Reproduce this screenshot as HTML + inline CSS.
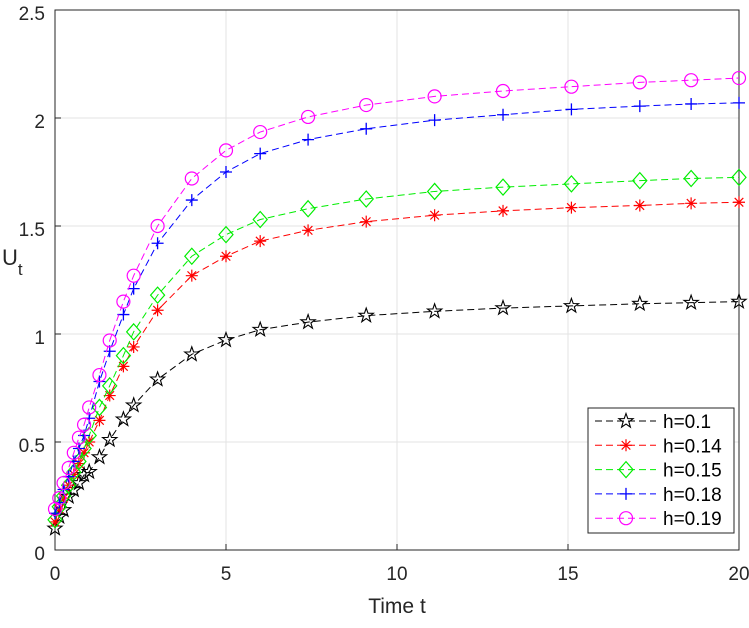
<!DOCTYPE html>
<html><head><meta charset="utf-8"><style>
body{margin:0;background:#fff;}
svg{font-family:"Liberation Sans",sans-serif;}
</style></head><body>
<svg id="chart" width="749" height="623" xmlns="http://www.w3.org/2000/svg">
<rect width="749" height="623" fill="#fff"/>
<g id="grid"></g>
<g id="axes"></g>
<g id="series"></g>
<g id="legend"></g>
</svg>
<script>
const times=[0,0.125,0.25,0.4,0.55,0.7,0.85,1,1.3,1.6,2,2.3,3,4,5,6,7.4,9.1,11.1,13.1,15.1,17.1,18.6,20];
const seriesNames=["h=0.1","h=0.14","h=0.15","h=0.18","h=0.19"];
const s1=[0.10,0.154,0.185,0.247,0.278,0.31,0.347,0.362,0.43,0.51,0.605,0.67,0.79,0.906,0.972,1.02,1.055,1.085,1.105,1.12,1.13,1.14,1.145,1.15];
const s2=[0.13,0.19,0.24,0.30,0.35,0.40,0.45,0.50,0.60,0.715,0.85,0.94,1.11,1.27,1.36,1.43,1.48,1.52,1.55,1.57,1.585,1.595,1.605,1.61];
const s3=[0.14,0.20,0.25,0.30,0.36,0.41,0.47,0.53,0.66,0.76,0.90,1.01,1.18,1.36,1.46,1.53,1.58,1.625,1.66,1.68,1.695,1.71,1.72,1.725];
const s4=[0.17,0.22,0.28,0.34,0.41,0.47,0.53,0.61,0.78,0.92,1.09,1.21,1.42,1.62,1.75,1.835,1.90,1.95,1.99,2.015,2.04,2.055,2.065,2.07];
const s5=[0.19,0.24,0.31,0.38,0.45,0.52,0.58,0.66,0.81,0.97,1.15,1.27,1.50,1.72,1.85,1.935,2.005,2.06,2.10,2.125,2.145,2.165,2.175,2.185];
const xTicks=[0,5,10,15,20];
const yTicks=[0,0.5,1,1.5,2,2.5];
const colors=["#000000","#ff0000","#00ee00","#0000ff","#ff00ff"];
const markers=["star","asterisk","diamond","plus","circle"];
const allSeries=[s1,s2,s3,s4,s5];

const X0=55,X1=739,Y0=550,Y1=10;
const xs=t=>X0+(t-0)/(20-0)*(X1-X0);
const ys=v=>Y0-(v-0)/(2.5-0)*(Y0-Y1);
const NS="http://www.w3.org/2000/svg";
function mk(tag,attrs,parent){const e=document.createElementNS(NS,tag);for(const k in attrs)e.setAttribute(k,attrs[k]);parent.appendChild(e);return e;}
const grid=document.getElementById('grid'),axes=document.getElementById('axes'),ser=document.getElementById('series'),leg=document.getElementById('legend');

xTicks.forEach(t=>{
  if(t>0&&t<20){const l=mk('line',{x1:xs(t),x2:xs(t),y1:Y0,y2:Y1,stroke:'#e3e3e3','stroke-width':1},grid);
  
  }
  const tk=mk('line',{x1:xs(t),x2:xs(t),y1:Y0,y2:Y0-6,stroke:'#262626'},axes);
  
  
  const tx=mk('text',{x:xs(t),y:580,'text-anchor':'middle','font-size':19,fill:'#262626'},axes);tx.textContent=t;
  
  
});
yTicks.forEach(v=>{
  if(v>0&&v<2.5){const l=mk('line',{x1:X0,x2:X1,y1:ys(v),y2:ys(v),stroke:'#e3e3e3','stroke-width':1},grid);
  
  }
  const tk=mk('line',{x1:X0,x2:X0+6,y1:ys(v),y2:ys(v),stroke:'#262626'},axes);
  
  
  const tx=mk('text',{x:45,y:ys(v)+10,'text-anchor':'end','font-size':19,fill:'#262626'},axes);tx.textContent=v;
  
  
});
const frame=mk('rect',{x:X0,y:Y1,width:X1-X0,height:Y0-Y1,fill:'none',stroke:'#262626','stroke-width':1},axes);


const xl=mk('text',{x:397,y:613,'text-anchor':'middle','font-size':21,fill:'#262626'},axes);xl.textContent='Time t';


const yl=mk('text',{x:2,y:265,'font-size':22,fill:'#262626'},axes);


const ylm=mk('tspan',{},yl);ylm.textContent='U';
const yls=mk('tspan',{dy:10,'font-size':17},yl);yls.textContent='t';

function marker(type,x,y,c,parent){
  let e;
  if(type==='circle')e=mk('circle',{cx:x,cy:y,r:6.5,fill:'none',stroke:c,'stroke-width':1.2},parent);
  else if(type==='diamond')e=mk('polygon',{points:`${x},${y-8} ${x+7},${y} ${x},${y+8} ${x-7},${y}`,fill:'none',stroke:c,'stroke-width':1.2},parent);
  else if(type==='plus')e=mk('path',{d:`M${x-6},${y}H${x+6}M${x},${y-6}V${y+6}`,stroke:c,'stroke-width':1.3,fill:'none'},parent);
  else if(type==='asterisk')e=mk('path',{d:`M${x-6},${y}H${x+6}M${x},${y-6}V${y+6}M${x-4.3},${y-4.3}L${x+4.3},${y+4.3}M${x-4.3},${y+4.3}L${x+4.3},${y-4.3}`,stroke:c,'stroke-width':1.2,fill:'none'},parent);
  else{let p=[];for(let i=0;i<10;i++){const r=i%2?3:7.5;const a=-Math.PI/2+i*Math.PI/5;p.push((x+r*Math.cos(a)).toFixed(1)+','+(y+r*Math.sin(a)).toFixed(1));}
    e=mk('polygon',{points:p.join(' '),fill:'none',stroke:c,'stroke-width':1.1},parent);}
  return e;
}
allSeries.forEach((s,i)=>{
  const g=mk('g',{},ser);
  
  
  const pl=mk('polyline',{points:s.map((v,j)=>xs(times[j])+','+ys(v)).join(' '),fill:'none',stroke:colors[i],'stroke-width':1,'stroke-dasharray':'7,4'},g);
  
  
  s.forEach((v,j)=>{const m=marker(markers[i],xs(times[j]),ys(v),colors[i],g);
    
    });
});
const lb=mk('rect',{x:588,y:408,width:146,height:125,fill:'#fff',stroke:'#262626','stroke-width':1},leg);


seriesNames.forEach((n,i)=>{
  const y=421+i*24.3;
  const g=mk('g',{},leg);
  
  
  mk('line',{x1:595,x2:656,y1:y,y2:y,stroke:colors[i],'stroke-width':1,'stroke-dasharray':'7,4'},g);
  marker(markers[i],626,y,colors[i],g);
  const t=mk('text',{x:663,y:y+7,'font-size':19,fill:'#000'},g);t.textContent=n;
});
</script>
</body></html>
